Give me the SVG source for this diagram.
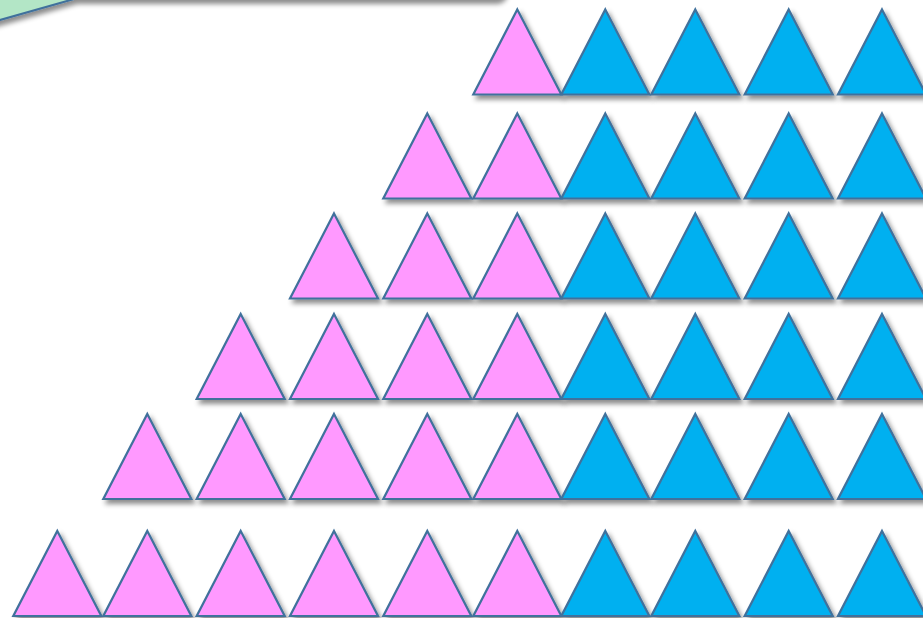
<svg xmlns="http://www.w3.org/2000/svg" width="923" height="618" viewBox="0 0 923 618">
  <defs>
    <filter id="sh" x="-20%" y="-20%" width="150%" height="150%">
      <feDropShadow dx="3" dy="4" stdDeviation="2.6" flood-color="#000" flood-opacity="0.45"/>
    </filter>
    <path id="tri" d="M0,0 L44,85 L-44,85 Z"/>
    <style>
      .p { fill: #FF99FF; stroke: #41719C; stroke-width: 2.2; stroke-linejoin: miter; filter: url(#sh); }
      .b { fill: #00B0F0; stroke: #41719C; stroke-width: 2.2; stroke-linejoin: miter; filter: url(#sh); }
      .g { fill: #B3E6C6; stroke: #41719C; stroke-width: 2.2; filter: url(#sh); }
    </style>
  </defs>
  <rect width="923" height="618" fill="#FFFFFF"/>

  <g id="callout">
    <path class="g" d="M -60,37 L 74,-1 L 492,-1 Q 504,-1 504,-13 L 504,-80 L -60,-80 Z"/>
  </g>

  <g id="row1">
    <use href="#tri" class="p" x="517.3" y="9.5"/>
    <use href="#tri" class="b" x="605.3" y="9.5"/>
    <use href="#tri" class="b" x="695.3" y="9.5"/>
    <use href="#tri" class="b" x="788.7" y="9.5"/>
    <use href="#tri" class="b" x="882" y="9.5"/>
  </g>
  <g id="row2">
    <use href="#tri" class="p" x="427.3" y="113.5"/>
    <use href="#tri" class="p" x="517.3" y="113.5"/>
    <use href="#tri" class="b" x="605.3" y="113.5"/>
    <use href="#tri" class="b" x="695.3" y="113.5"/>
    <use href="#tri" class="b" x="788.7" y="113.5"/>
    <use href="#tri" class="b" x="882" y="113.5"/>
  </g>
  <g id="row3">
    <use href="#tri" class="p" x="334" y="213.5"/>
    <use href="#tri" class="p" x="427.3" y="213.5"/>
    <use href="#tri" class="p" x="517.3" y="213.5"/>
    <use href="#tri" class="b" x="605.3" y="213.5"/>
    <use href="#tri" class="b" x="695.3" y="213.5"/>
    <use href="#tri" class="b" x="788.7" y="213.5"/>
    <use href="#tri" class="b" x="882" y="213.5"/>
  </g>
  <g id="row4">
    <use href="#tri" class="p" x="240.7" y="314"/>
    <use href="#tri" class="p" x="334" y="314"/>
    <use href="#tri" class="p" x="427.3" y="314"/>
    <use href="#tri" class="p" x="517.3" y="314"/>
    <use href="#tri" class="b" x="605.3" y="314"/>
    <use href="#tri" class="b" x="695.3" y="314"/>
    <use href="#tri" class="b" x="788.7" y="314"/>
    <use href="#tri" class="b" x="882" y="314"/>
  </g>
  <g id="row5">
    <use href="#tri" class="p" x="147.3" y="414"/>
    <use href="#tri" class="p" x="240.7" y="414"/>
    <use href="#tri" class="p" x="334" y="414"/>
    <use href="#tri" class="p" x="427.3" y="414"/>
    <use href="#tri" class="p" x="517.3" y="414"/>
    <use href="#tri" class="b" x="605.3" y="414"/>
    <use href="#tri" class="b" x="695.3" y="414"/>
    <use href="#tri" class="b" x="788.7" y="414"/>
    <use href="#tri" class="b" x="882" y="414"/>
  </g>
  <g id="row6">
    <use href="#tri" class="p" x="57.3" y="531"/>
    <use href="#tri" class="p" x="147.3" y="531"/>
    <use href="#tri" class="p" x="240.7" y="531"/>
    <use href="#tri" class="p" x="334" y="531"/>
    <use href="#tri" class="p" x="427.3" y="531"/>
    <use href="#tri" class="p" x="517.3" y="531"/>
    <use href="#tri" class="b" x="605.3" y="531"/>
    <use href="#tri" class="b" x="695.3" y="531"/>
    <use href="#tri" class="b" x="788.7" y="531"/>
    <use href="#tri" class="b" x="882" y="531"/>
  </g>
</svg>
